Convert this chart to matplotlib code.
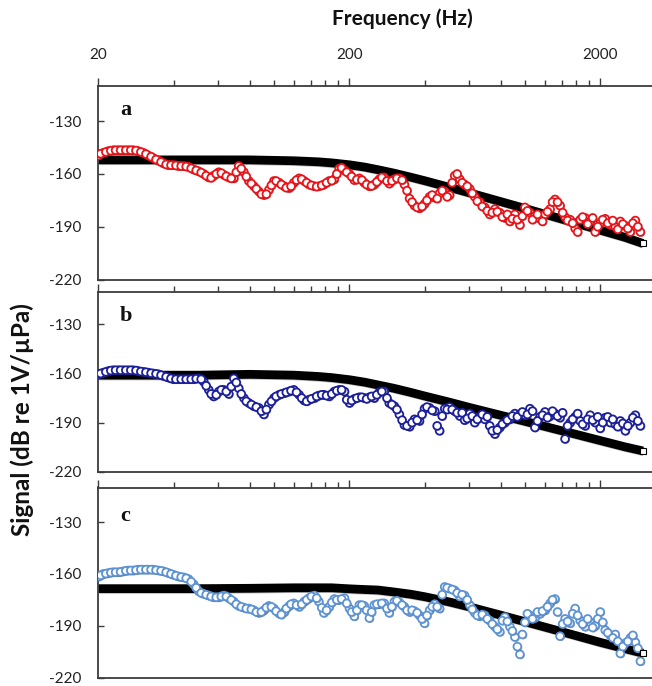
import numpy as np
import matplotlib
matplotlib.use("Agg")
import matplotlib.pyplot as plt
import matplotlib.patheffects as pe
from matplotlib.ticker import FixedLocator, NullFormatter

# ---------------- data ----------------
freq = [20, 20.9, 21.9, 22.9, 24.0, 25.1, 26.3, 27.5, 28.8, 30.2,
        31.6, 33.1, 34.7, 36.3, 38.0, 39.8, 41.7, 43.7, 45.7, 47.9,
        50.1, 52.5, 55.0, 57.5, 60.3, 63.1, 66.1, 69.2, 72.4, 75.9,
        79.4, 83.2, 87.1, 91.2, 95.5, 100, 105, 110, 115, 120,
        126, 132, 138, 145, 151, 158, 166, 174, 182, 191,
        200, 209, 219, 229, 240, 251, 263, 275, 288, 302,
        316, 331, 347, 363, 380, 398, 417, 437, 457, 479,
        501, 525, 550, 575, 603, 631, 661, 692, 724, 759,
        794, 832, 871, 912, 955, 1000, 1047, 1096, 1148, 1202,
        1259, 1318, 1380, 1445, 1514, 1585, 1660, 1738, 1820, 1905,
        1995, 2089, 2188, 2291, 2399, 2512, 2630, 2754, 2884]

freq_mid = [20.4, 21.4, 22.4, 23.4, 24.5, 25.7, 26.9, 28.2, 29.5, 30.9,
            32.4, 33.9, 35.5, 37.2, 38.9, 40.7, 42.7, 44.7, 46.8, 49.0,
            51.3, 53.7, 56.2, 58.9, 61.7, 64.6, 67.6, 70.8, 74.1, 77.6,
            81.3, 85.1, 89.1, 93.3, 97.7, 102, 107, 112, 117, 123,
            129, 135, 141, 148, 155, 162, 170, 178, 186, 195,
            204, 214, 224, 234, 245, 257, 269, 282, 295, 309,
            324, 339, 355, 372, 389, 407, 427, 447, 468, 490,
            513, 537, 562, 589, 617, 646, 676, 708, 741, 776,
            813, 851, 891, 933, 977, 1023, 1072, 1122, 1175, 1230,
            1288, 1349, 1413, 1479, 1549, 1622, 1698, 1778, 1862, 1950,
            2042, 2138, 2239, 2344, 2455, 2570, 2692, 2818]

meas_a = [-149.5, -148, -147, -146.5, -146.5, -146.5, -146.5, -146.5, -147, -148,
          -149.5, -151, -152.5, -154, -155, -155, -155.5, -155.5, -156, -157.5,
          -158.5, -160, -162, -161, -159, -160.5, -162, -162.5, -155.5, -159,
          -164, -167, -170, -172, -169, -164, -165, -167, -168, -165,
          -162.5, -164, -166, -167, -167, -166, -164, -163, -157, -158,
          -160, -163.5, -162.5, -165, -167, -166, -163, -162, -165.5, -163,
          -162.5, -166, -174, -178, -179.5, -177, -173, -173.5, -171, -170,
          -172, -161, -163, -166, -168.5, -173, -176, -179, -183, -180,
          -182, -185, -187, -183, -189, -179, -182, -184, -185.5, -183,
          -180, -174.5, -178, -184.5, -186, -191, -186, -185, -187, -193,
          -188, -185.5, -189, -190, -187, -189.5, -193, -186.5, -193]
meas_a_mid = [-148.5, -147.5, -146.8, -146.5, -146.5, -146.5, -146.5, -146.7, -147.5, -148.7,
              -150.2, -151.8, -153.2, -154.6, -155, -155.2, -155.5, -155.8, -156.8, -158,
              -159.2, -161, -162.2, -160, -159.5, -161.3, -162.5, -159, -157, -161.5,
              -165.5, -168.5, -171.5, -171.5, -166.5, -164, -166, -167.8, -167, -163.5,
              -163, -165, -166.5, -167.2, -166.5, -165, -163.8, -160, -156.5, -159,
              -161.5, -163.2, -163.5, -166, -166.8, -164.5, -162, -164, -164, -162.5,
              -163.5, -169.5, -176, -179, -178.5, -175, -172, -174, -169.5, -173,
              -165, -160, -165, -167, -171, -175.5, -178.5, -181, -182, -181.5,
              -184.5, -183, -185.5, -186, -184, -181, -186, -183, -187, -181.5,
              -176, -176, -182, -186.5, -188, -193, -184.5, -188.5, -185, -190,
              -186, -188, -186.5, -191.5, -188.5, -191, -188, -190]

meas_b = [-160.5, -159.5, -158.5, -158, -158, -158, -158, -158, -158.5, -159,
          -159.5, -160, -160.5, -161.5, -162.5, -163.5, -163.5, -163.5, -163.5, -163.5,
          -163, -165, -170, -174, -171, -170, -172.5, -163, -169, -175,
          -178, -180, -181, -185, -179, -175, -173, -172, -171, -170,
          -173, -176.5, -176, -175, -173.5, -173, -174, -171, -170, -171,
          -178, -175.5, -174.5, -175, -174.5, -175, -171.5, -171, -178, -180,
          -185, -191.5, -192.5, -188, -189, -181.5, -181, -183, -195, -181.5,
          -180.5, -183, -186, -188.5, -184.5, -190, -186.5, -188, -192, -197,
          -193, -190, -188, -184.5, -185, -185.5, -181.5, -193, -186.5, -183.5,
          -186, -184.5, -187, -200, -190, -186.5, -189, -192, -185.5, -190,
          -193.5, -187, -190, -191, -189, -195, -190, -185.5, -192]
meas_b_mid = [-160, -159, -158.2, -158, -158, -158, -158, -158.2, -158.8, -159.2,
              -159.8, -160.2, -161, -162, -163, -163.5, -163.5, -163.5, -163.5, -163.2,
              -163.5, -167.5, -172.5, -173, -170, -171, -168, -165.5, -172.5, -177,
              -179, -180.5, -183, -182, -177, -174, -172.5, -171.5, -170.5, -171.5,
              -175, -177, -175.5, -174, -173, -173.5, -172.5, -170.5, -170, -176,
              -176.5, -175, -174.5, -175.5, -174, -173, -171, -175, -179, -182,
              -188.5, -192, -190, -188.5, -185, -180.5, -182.5, -192, -186, -182,
              -182, -184, -184, -187.5, -186, -188, -185, -186.5, -195, -194.5,
              -191, -188.5, -186, -186.5, -183.5, -185, -183, -189, -185.5, -187,
              -183, -186, -184, -192, -188, -184.5, -191, -188, -188.5, -186.5,
              -190, -186.5, -188, -192.5, -190.5, -192, -187, -189]

meas_c = [-161.5, -160, -159.5, -159, -159, -158.5, -158, -158, -157.5, -157.5,
          -157.5, -157.5, -158, -158.5, -159.5, -160.5, -161.5, -162, -163, -166,
          -170, -171.5, -172.5, -173.5, -173.5, -172.5, -174, -176, -178.5, -179.5,
          -180, -181, -182.5, -181, -178.5, -180, -183, -182, -178.5, -177,
          -179, -176, -174, -172.5, -176, -182.5, -179, -174.5, -175, -174,
          -180, -184.5, -178, -178.5, -185.5, -178, -177.5, -177, -182.5, -176,
          -176.5, -179, -182, -181.5, -184, -188.5, -181, -177.5, -180, -167.5,
          -168.5, -169.5, -173, -172.5, -178, -182.5, -184.5, -184, -187, -190.5,
          -193.5, -185, -190.5, -196.5, -206.5, -188, -184, -185.5, -183, -181,
          -177, -174.5, -196, -186, -188.5, -180, -187, -190.5, -188, -190,
          -182, -192.5, -195.5, -195, -206, -200, -197, -199.5, -210.5]
meas_c_mid = [-160.8, -159.8, -159.2, -159, -158.8, -158.2, -158, -157.8, -157.5, -157.5,
              -157.5, -157.8, -158.2, -159, -160, -161, -161.8, -162.5, -164.5, -168,
              -171, -172, -173, -173.5, -173, -173, -175, -177.5, -179, -180,
              -180.5, -182, -182, -179.5, -179, -181.5, -183.5, -180, -177.5, -178,
              -177.5, -175, -173, -174, -179.5, -181, -176.5, -175, -174.5, -177,
              -182, -181, -178, -181, -182, -177.5, -177, -180, -179, -175.5,
              -178, -181, -181, -182.5, -186, -184, -179, -179, -172, -168,
              -169, -171, -172, -175, -180.5, -184, -183.5, -186, -189, -192,
              -187, -187.5, -193, -202, -195, -183, -186, -182, -181.5, -179,
              -175, -182, -189, -187.5, -183, -184, -189, -186, -191, -186,
              -188, -194, -197, -199, -202, -199, -195.5, -203]

model_freq = [20, 50, 80, 120, 150, 170, 200, 230, 260, 300, 350, 400,
              500, 600, 800, 1000, 1300, 1600, 2000, 2500, 2950]
model_a = [-152, -152, -152, -152.5, -153.1, -153.7, -154.8, -156.1, -157.6, -159.5,
           -161.8, -163.9, -167.6, -170.7, -175.7, -179.6, -184.3, -188, -192, -196, -199.5]
model_b = [-161, -161, -160.5, -161, -161.8, -162.5, -163.8, -165.3, -167, -169,
           -171.5, -173.8, -177.5, -180.7, -185.5, -189.2, -193.7, -197.2, -201, -204.8, -207.3]
model_c = [-168.5, -168.5, -168.3, -168, -168, -168, -168.6, -169, -169.3, -170.4,
           -171.7, -173.2, -176.2, -179, -183.8, -187.6, -192.1, -195.7, -199.6, -203.2, -205.8]

panel_labels = ["a", "b", "c"]
colors = ["#e8141a", "#1c1f9a", "#5d93d3"]
yticks = [-220, -190, -160, -130]
major_x = [20, 200, 2000]
minor_x = [40, 60, 80, 100, 120, 140, 160, 180, 400, 600, 800, 1000, 1200, 1400, 1600, 1800]

# ---------------- layout ----------------
W, H = 652, 686
fig = plt.figure(figsize=(W / 100, H / 100), dpi=100)

left_px = 98.5
panels_px = [(86, 279.5), (291.7, 471.7), (487.5, 677.7)]  # (top, bottom)
letter_off = [24, 24.5, 28.5]

meas = [(meas_a, meas_a_mid), (meas_b, meas_b_mid), (meas_c, meas_c_mid)]
models = [model_a, model_b, model_c]

spine_col = "#3c3c3c"
tick_font = "Lato"

for i in range(3):
    top, bot = panels_px[i]
    ax = fig.add_axes([left_px / W, 1 - bot / H, 1 - left_px / W, (bot - top) / H])
    ax.set_xscale("log")
    ax.set_xlim(20, 3208)
    ax.set_ylim(-220, -110)

    # model line (thick black band of squares)
    ax.plot(model_freq, models[i], color="black", lw=6.3, solid_capstyle="butt",
            zorder=2,
            path_effects=[pe.SimpleLineShadow(offset=(0.6, -0.6), shadow_color="gray", alpha=0.5),
                          pe.Normal()])
    ax.plot(model_freq[-1:], models[i][-1:], ls="none", marker="s", ms=4.2,
            mfc="white", mec="black", mew=0.8, zorder=4)

    # measured data (open circles)
    main_vals, mid_vals = meas[i]
    for fx, vy in ((freq, main_vals), (freq_mid, mid_vals)):
        ax.plot(fx, vy, ls="none", marker="o", ms=5.6, mfc="white",
                mec=colors[i], mew=1.3, zorder=3,
                path_effects=[pe.SimplePatchShadow(offset=(0.7, -0.7), shadow_rgbFace="#333333", alpha=0.45),
                              pe.Normal()])

    # axes styling
    for s in ["left", "top", "bottom"]:
        ax.spines[s].set_color(spine_col)
        ax.spines[s].set_linewidth(1.3)
    ax.spines["right"].set_visible(False)

    ax.xaxis.set_major_locator(FixedLocator(major_x))
    ax.xaxis.set_minor_locator(FixedLocator(minor_x))
    ax.xaxis.set_minor_formatter(NullFormatter())
    ax.xaxis.tick_top()
    ax.set_xticklabels([str(v) for v in major_x])
    ax.tick_params(axis="x", which="major", direction="out", length=6, width=1.0,
                   color=spine_col, top=True, bottom=False,
                   labeltop=(i == 0), labelbottom=False, pad=11, labelsize=11)
    ax.tick_params(axis="x", which="minor", direction="out", length=4, width=1.0,
                   color=spine_col, top=True, bottom=False)
    ax.set_yticks(yticks)
    ax.set_yticklabels(["-" + str(abs(v)) for v in yticks])
    ax.tick_params(axis="y", which="major", direction="in", length=4, width=1.0,
                   color=spine_col, labelsize=11, pad=12)
    ax.tick_params(axis="y", which="minor", left=False)
    for lab in ax.get_xticklabels() + ax.get_yticklabels():
        lab.set_fontfamily(tick_font)
        lab.set_color("#222222")

    fig.text(120 / W, 1 - (top + letter_off[i]) / H, panel_labels[i],
             fontfamily="Liberation Serif", fontweight="bold", fontsize=16,
             ha="left", va="center", color="#111111")

fig.text(402 / W, 1 - 19 / H, "Frequency (Hz)", fontfamily="Lato", fontweight="bold",
         fontsize=15, ha="center", va="center", color="#111111")
fig.text(22 / W, 1 - 420 / H, "Signal (dB re 1V/\u00b5Pa)", fontfamily="Lato",
         fontweight="bold", fontsize=17.5, rotation=90, ha="center", va="center",
         color="#111111")

fig.savefig("out.png", dpi=100)
